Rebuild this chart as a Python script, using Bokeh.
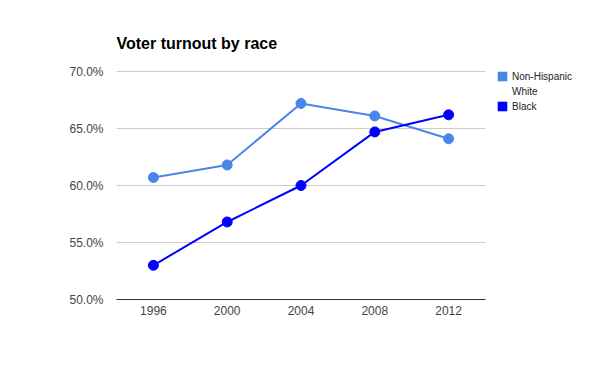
from bokeh.plotting import figure
from bokeh.models import Range1d, PrintfTickFormatter, FixedTicker, Legend, LegendItem, Title
from bokeh.embed import file_html
from bokeh.resources import INLINE

years = [1996, 2000, 2004, 2008, 2012]
white = [60.7, 61.8, 67.2, 66.1, 64.1]
black = [53.0, 56.8, 60.0, 64.7, 66.2]
y_ticks = [50, 55, 60, 65, 70]
legend_labels = ["Non-Hispanic", "White", "Black"]

FONT = "Liberation Sans"
C_WHITE = "#4a86e8"
C_BLACK = "#0000ff"

W, H = 584, 355
B_LEFT, B_RIGHT, B_TOP, B_BOTTOM = 116, 8, 61, 56
PLOT_W, PLOT_H = 369, 228   # size of the visible plotting area (grid / axis)
X0, X1 = 1994, 2014         # data span of the visible plotting area
Y0, Y1 = 50, 70
frame_w = W - B_LEFT - B_RIGHT
frame_h = H - B_TOP - B_BOTTOM
x_end = X0 + (X1 - X0) * frame_w / PLOT_W
y_end = Y0 + (Y1 - Y0) * frame_h / PLOT_H

p = figure(width=W, height=H, x_range=Range1d(X0, x_end), y_range=Range1d(Y0, y_end),
           output_backend="svg", toolbar_location=None,
           min_border_left=B_LEFT, min_border_right=B_RIGHT,
           min_border_top=B_TOP, min_border_bottom=B_BOTTOM)
p.title = None
p.add_layout(Title(text="Voter turnout by race", text_font=FONT, text_font_size="16px",
                   text_font_style="bold", text_color="#000000", align="left", standoff=19), "above")
p.outline_line_color = None
p.background_fill_color = "white"

p.line(years, white, color=C_WHITE, line_width=2)
p.scatter(years, white, color=C_WHITE, size=10)
p.line(years, black, color=C_BLACK, line_width=2)
p.scatter(years, black, color=C_BLACK, size=10)

# legend swatches (no data: used only by the legend)
sw_w = p.quad(fill_color=C_WHITE, line_color=None)
sw_none = p.quad(fill_color=C_WHITE, line_color=None, fill_alpha=0)
sw_b = p.quad(fill_color=C_BLACK, line_color=None)
legend = Legend(items=[LegendItem(label=legend_labels[0], renderers=[sw_w]),
                       LegendItem(label=legend_labels[1], renderers=[sw_none]),
                       LegendItem(label=legend_labels[2], renderers=[sw_b])],
                location=(PLOT_W + 11, 187), border_line_color=None,
                background_fill_alpha=0, label_text_font=FONT, label_text_font_size="10px",
                label_text_color="#222222", glyph_width=12, glyph_height=12,
                label_height=12, padding=0, margin=0, spacing=3, label_standoff=4)
p.add_layout(legend, "center")

p.yaxis.ticker = FixedTicker(ticks=y_ticks)
p.yaxis.formatter = PrintfTickFormatter(format="%.1f%%")
p.yaxis.axis_line_color = None
p.yaxis.major_tick_line_color = None
p.yaxis.minor_tick_line_color = None
p.yaxis.major_tick_out = 0
p.yaxis.major_label_text_font = FONT
p.yaxis.major_label_text_font_size = "12px"
p.yaxis.major_label_text_color = "#444444"
p.yaxis.major_label_standoff = 13

p.xaxis.ticker = FixedTicker(ticks=years)
p.xaxis.bounds = (X0, X1)
p.xaxis.axis_line_color = "#333333"
p.xaxis.major_tick_line_color = None
p.xaxis.minor_tick_line_color = None
p.xaxis.major_tick_out = 0
p.xaxis.major_label_text_font = FONT
p.xaxis.major_label_text_font_size = "12px"
p.xaxis.major_label_text_color = "#444444"
p.xaxis.major_label_standoff = 6

p.xgrid.grid_line_color = None
p.ygrid.grid_line_color = "#cccccc"
p.ygrid.ticker = FixedTicker(ticks=y_ticks)
yg = p.ygrid[0]
if "cross_bounds" in yg.properties():
    yg.cross_bounds = (X0, X1)

open("out.html", "w").write(file_html(p, INLINE))
